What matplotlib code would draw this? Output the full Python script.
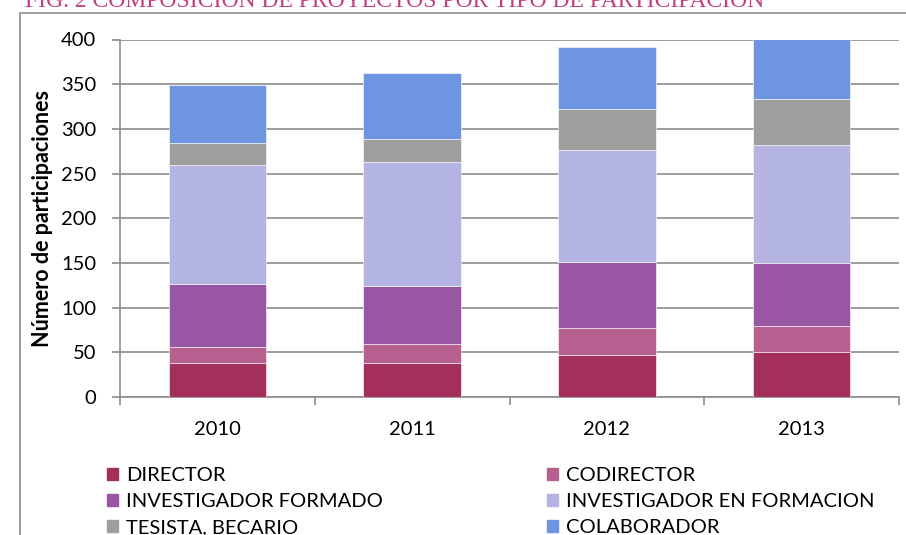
import matplotlib
matplotlib.use("Agg")
import matplotlib.pyplot as plt
from matplotlib.patches import Patch, Rectangle
import numpy as np

plt.rcParams['font.family'] = ['Lato', 'DejaVu Sans']

# datos
anios = ["2010", "2011", "2012", "2013"]
director = [38, 38, 47, 50]
codirector = [18, 21, 30, 29]
inv_formado = [70, 65, 74, 71]
inv_en_formacion = [134, 139, 125, 132]
tesista = [24, 26, 46, 51]
colaborador = [65, 74, 70, 67]

series = [
    ("DIRECTOR", director, "#A2305A"),
    ("CODIRECTOR", codirector, "#B75F8E"),
    ("INVESTIGADOR FORMADO", inv_formado, "#9856A5"),
    ("INVESTIGADOR EN FORMACION", inv_en_formacion, "#B3B4E1"),
    ("TESISTA, BECARIO", tesista, "#9E9E9E"),
    ("COLABORADOR", colaborador, "#6E95E0"),
]

W, H = 906, 535
fs = 14.5
fig = plt.figure(figsize=(W / 100, H / 100), dpi=100)

# marco exterior
fig.patches.append(Rectangle((19.5 / W, -0.1), 2, (H - 12.5) / H + 0.1,
                             transform=fig.transFigure, fill=False,
                             edgecolor="#8C8C8C", linewidth=1.2))

# título (cortado arriba)
fig.text(25 / W, 1 - 7 / H, "FIG. 2 COMPOSICIÓN DE PROYECTOS POR TIPO DE PARTICIPACIÓN",
         family="Liberation Serif", fontsize=17, color="#C2407E", va="baseline")

ax = fig.add_axes([120 / W, 1 - 397 / H, (899 - 120) / W, (397 - 39.5) / H])

x = np.arange(len(anios))
bottom = np.zeros(len(anios))
for nombre, vals, color in series:
    ax.bar(x, vals, width=0.5, bottom=bottom, color=color, label=nombre,
           edgecolor="white", linewidth=0.4, zorder=3)
    bottom += np.array(vals)

ax.set_xlim(-0.5, len(anios) - 0.5)
ax.set_ylim(0, 400)
ax.set_yticks(range(0, 401, 50))
ax.yaxis.grid(True, color="#8C8C8C", linewidth=1.2, zorder=0)
ax.set_xticks(x)
ax.set_xticklabels(anios)
ax.set_xticks(np.arange(-0.5, len(anios)), minor=True)
ax.tick_params(axis="x", which="major", length=0, pad=17, labelsize=fs)
ax.tick_params(axis="x", which="minor", length=6, width=1.2, color="#8C8C8C")
ax.tick_params(axis="y", length=6, width=1.2, color="#8C8C8C", pad=11, labelsize=fs)

for s in ["top", "right"]:
    ax.spines[s].set_visible(False)
for s in ["left", "bottom"]:
    ax.spines[s].set_color("#8C8C8C")
    ax.spines[s].set_linewidth(1.2)

ax.set_ylabel("Número de participaciones", fontsize=15.5, fontweight="bold", labelpad=6)

handles = [Patch(color=c, label=n) for n, v, c in series]
kw = dict(loc="upper left", frameon=False, fontsize=fs, handlelength=0.55,
          handleheight=0.55, handletextpad=0.4, labelspacing=0.45, borderpad=0)
fig.legend([handles[i] for i in (0, 2, 4)], [series[i][0] for i in (0, 2, 4)],
           bbox_to_anchor=(97 / W, 1 - 457 / H), **kw)
fig.legend([handles[i] for i in (1, 3, 5)], [series[i][0] for i in (1, 3, 5)],
           bbox_to_anchor=(537 / W, 1 - 457 / H), **kw)

fig.savefig("out.png", dpi=100)
